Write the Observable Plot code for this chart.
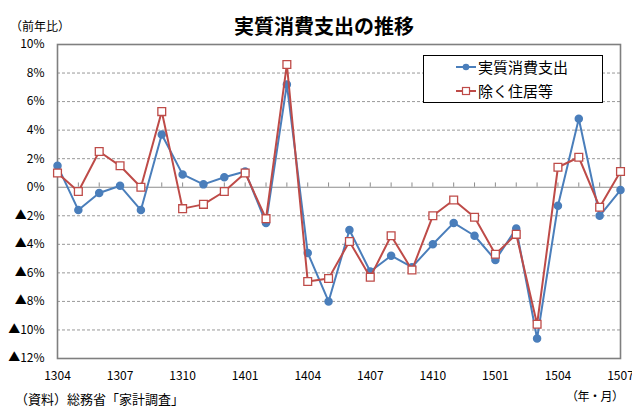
<!DOCTYPE html>
<html>
<head>
<meta charset="utf-8">
<script src="https://cdn.jsdelivr.net/npm/d3@7"></script>
<script src="https://cdn.jsdelivr.net/npm/@observablehq/plot@0.6"></script>
<style>
  html, body { margin: 0; padding: 0; background: #fff; }
  #wrap { position: relative; width: 632px; height: 408px; font-family: "Noto Sans CJK JP", "Noto Sans", sans-serif; color: #000; }
  #chart { position: absolute; left: 0; top: 0; }
  .abs { position: absolute; white-space: nowrap; line-height: 1; }
  #title { left: 0; width: 648px; text-align: center; top: 16px; font-size: 20px; font-weight: bold; }
  #unit { left: 10px; top: 20px; font-size: 12px; }
  #source { left: 15px; top: 392px; font-size: 13px; }
  #xunit { left: 566px; top: 390px; font-size: 12px; letter-spacing: -0.5px; }
  #legend { left: 423px; top: 55px; width: 178px; height: 46px; border: 1px solid #000; background: #fff; }
  .lrow { position: absolute; left: 32px; font-size: 15px; display: flex; align-items: center; }
  .lrow svg { margin-right: 2px; }
</style>
</head>
<body>
<div id="wrap">
  <div id="chart"></div>
  <div class="abs" id="title">実質消費支出の推移</div>
  <div class="abs" id="unit">（前年比）</div>
  <div class="abs" id="source">（資料）総務省「家計調査」</div>
  <div class="abs" id="xunit">（年・月）</div>
  <div class="abs" id="legend"></div>
</div>
<script>
const months = ["1304","1305","1306","1307","1308","1309","1310","1311","1312",
  "1401","1402","1403","1404","1405","1406","1407","1408","1409","1410","1411","1412",
  "1501","1502","1503","1504","1505","1506","1507"];
const tickLabels = ["1304","1307","1310","1401","1404","1407","1410","1501","1504","1507"];
const seriesNames = ["実質消費支出", "除く住居等"];
const realSpending = [1.5,-1.6,-0.4,0.1,-1.6,3.7,0.9,0.2,0.7,
  1.1,-2.5,7.2,-4.6,-8.0,-3.0,-5.9,-4.8,-5.6,-4.0,-2.5,-3.4,
  -5.1,-2.9,-10.6,-1.3,4.8,-2.0,-0.2];
const exHousing = [1.0,-0.3,2.5,1.5,0.0,5.3,-1.5,-1.2,-0.3,
  1.0,-2.2,8.6,-6.6,-6.4,-3.8,-6.3,-3.4,-5.8,-2.0,-0.9,-2.1,
  -4.7,-3.3,-9.6,1.4,2.1,-1.4,1.1];
const yTicks = [10,8,6,4,2,0,-2,-4,-6,-8,-10,-12];
const gridValues = [8,6,4,2,-2,-4,-6,-8,-10];

const blue = "#4A7EBB";
const red = "#BE4B48";

const idx = months.map((m, i) => i);
const rowsA = months.map((m, i) => ({i, v: realSpending[i]}));
const rowsB = months.map((m, i) => ({i, v: exHousing[i]}));
const xTicks = tickLabels.map(t => months.indexOf(t));

const fmt = d => d < 0 ? "▲" + (-d) + "%" : d + "%";

const chart = Plot.plot({
  width: 632,
  height: 408,
  marginTop: 44,
  marginBottom: 50,
  marginLeft: 57,
  marginRight: 12,
  style: {fontFamily: "'Noto Sans CJK JP', 'Noto Sans', sans-serif", fontSize: "12px", color: "#000", background: "transparent"},
  x: {type: "linear", domain: [0, months.length - 1]},
  y: {domain: [-12, 10]},
  marks: [
    Plot.ruleY(gridValues, {stroke: "#999", strokeDasharray: "3,2", strokeWidth: 1}),
    Plot.ruleY([0], {stroke: "#8c8c8c", strokeWidth: 1.2}),
    Plot.ruleX(idx, {x: d => d, y1: 0, y2: 0.3, stroke: "#8c8c8c", strokeWidth: 1}),
    Plot.frame({stroke: "#7f7f7f", strokeWidth: 1.6}),
    Plot.axisY({ticks: yTicks, tickFormat: fmt, tickSize: 0, tickPadding: 13, label: null}),
    Plot.axisX({ticks: xTicks, tickFormat: i => months[i], tickSize: 0, tickPadding: 13, label: null}),
    Plot.line(rowsA, {x: "i", y: "v", stroke: blue, strokeWidth: 2}),
    Plot.dot(rowsA, {x: "i", y: "v", fill: blue, stroke: blue, r: 3.5}),
    Plot.line(rowsB, {x: "i", y: "v", stroke: red, strokeWidth: 2}),
    Plot.dot(rowsB, {x: "i", y: "v", symbol: "square", fill: "#fff", stroke: red, strokeWidth: 1.3, r: 4.4})
  ]
});
document.getElementById("chart").appendChild(chart);

// legend
const legend = document.getElementById("legend");
const swatch = (color, square) => {
  const marker = square
    ? `<rect x="6.5" y="3.5" width="7" height="7" fill="#fff" stroke="${color}" stroke-width="1.2"/>`
    : `<circle cx="10" cy="7" r="3.3" fill="${color}"/>`;
  return `<svg width="20" height="14"><line x1="0" y1="7" x2="20" y2="7" stroke="${color}" stroke-width="2"/>${marker}</svg>`;
};
seriesNames.forEach((name, i) => {
  const row = document.createElement("div");
  row.className = "lrow";
  row.style.top = (i === 0 ? 3 : 27) + "px";
  row.innerHTML = swatch(i === 0 ? blue : red, i === 1) + `<span>${name}</span>`;
  legend.appendChild(row);
});
</script>
</body>
</html>
